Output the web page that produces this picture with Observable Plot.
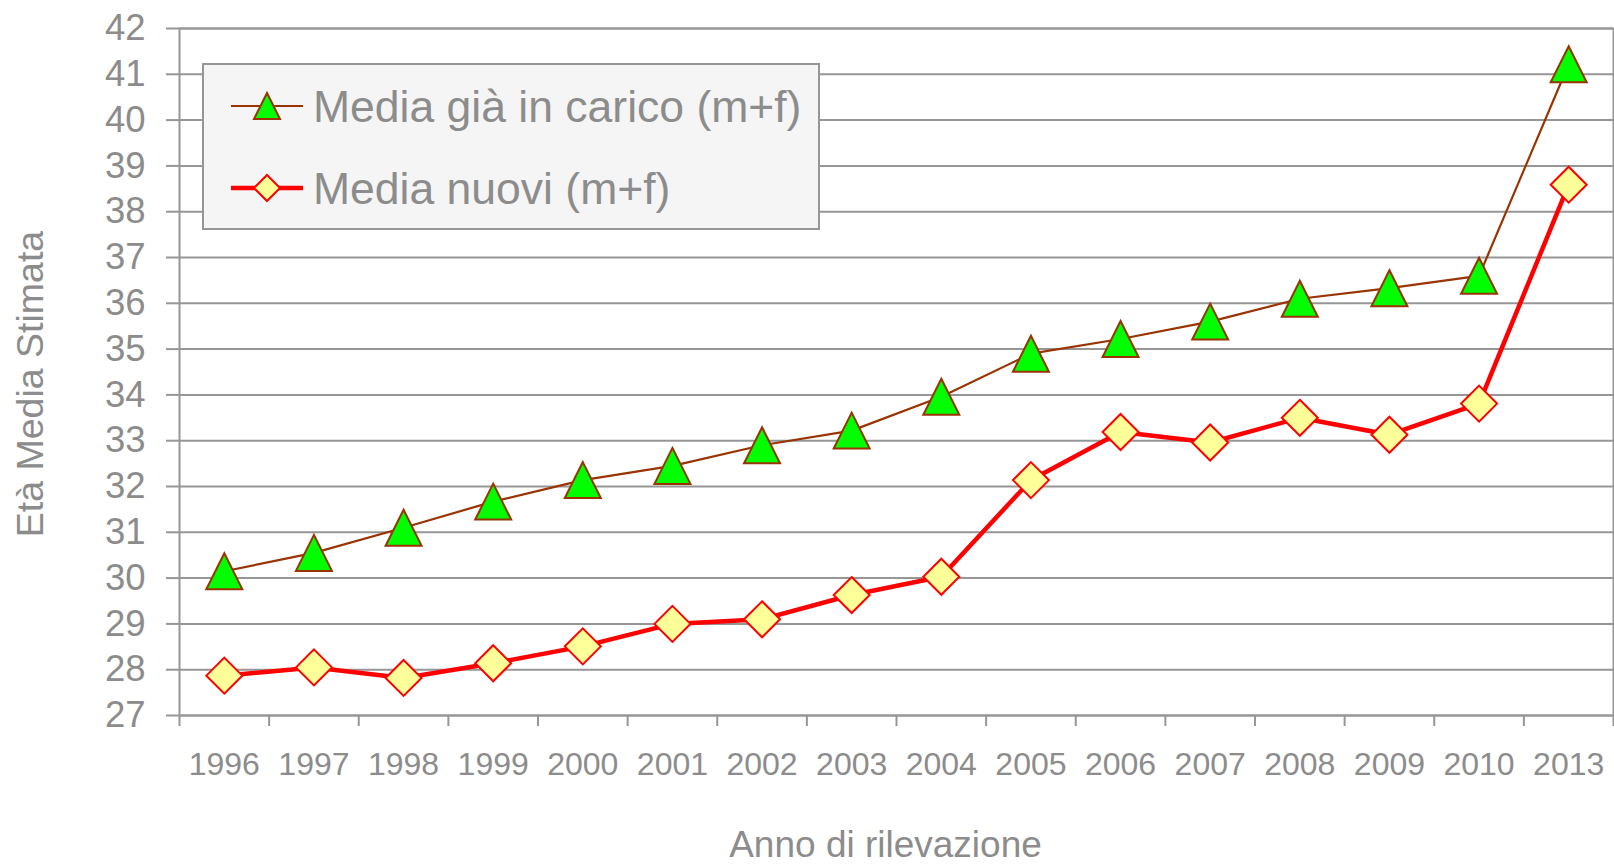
<!DOCTYPE html>
<html>
<head>
<meta charset="utf-8">
<script src="https://cdn.jsdelivr.net/npm/d3@7"></script>
<script src="https://cdn.jsdelivr.net/npm/@observablehq/plot@0.6"></script>
<style>
  html, body { margin: 0; padding: 0; background: #ffffff; }
  #chart { width: 1614px; height: 865px; overflow: hidden; }
</style>
</head>
<body>
<div id="chart"></div>
<script>
// ---- data ----
const years = ["1996","1997","1998","1999","2000","2001","2002","2003","2004","2005","2006","2007","2008","2009","2010","2013"];
const mediaGiaInCarico = [30.15, 30.55, 31.1, 31.67, 32.14, 32.45, 32.9, 33.22, 33.96, 34.9, 35.22, 35.6, 36.1, 36.33, 36.6, 41.22];
const mediaNuovi = [27.87, 28.05, 27.82, 28.14, 28.51, 29.0, 29.1, 29.63, 30.03, 32.14, 33.19, 32.96, 33.5, 33.13, 33.81, 38.59];
const yTickValues = [27,28,29,30,31,32,33,34,35,36,37,38,39,40,41,42];
const seriesNames = ["Media già in carico (m+f)", "Media nuovi (m+f)"];
const xTitle = "Anno di rilevazione";
const yTitle = "Età Media Stimata";

const rows = years.map((year, i) => ({i, year, gia: mediaGiaInCarico[i], nuovi: mediaNuovi[i]}));
const bandEdges = d3.range(years.length + 1).map(i => i - 0.5);

// custom symbols (bounding box centred on the data point)
const triangleSym = {
  draw(ctx, size) {
    const r = Math.sqrt(size / Math.PI);
    ctx.moveTo(0, -r);
    ctx.lineTo(r, r);
    ctx.lineTo(-r, r);
    ctx.closePath();
  }
};
const diamondSym = {
  draw(ctx, size) {
    const r = Math.sqrt(size / Math.PI);
    ctx.moveTo(0, -r);
    ctx.lineTo(r, 0);
    ctx.lineTo(0, r);
    ctx.lineTo(-r, 0);
    ctx.closePath();
  }
};

const gridColor = "#969696";
const textColor = "#8c8c8c";
const font = "'Liberation Sans', Arial, sans-serif";

const svg = Plot.plot({
  width: 1614,
  height: 865,
  marginLeft: 179,
  marginRight: 1,
  marginTop: 28,
  marginBottom: 150,
  style: {fontFamily: font, color: textColor, background: "transparent", overflow: "visible"},
  x: {type: "linear", domain: [-0.5, years.length - 0.5]},
  y: {type: "linear", domain: [27, 42]},
  marks: [
    Plot.gridY(yTickValues, {stroke: gridColor, strokeOpacity: 1, strokeWidth: 2}),
    Plot.frame({stroke: gridColor, strokeWidth: 2}),
    Plot.axisY(yTickValues, {tickSize: 13, tickPadding: 21, fontSize: 36.5, stroke: gridColor, strokeWidth: 2, label: null, fill: textColor}),
    Plot.axisX(bandEdges, {tickSize: 11, tickFormat: () => "", stroke: gridColor, strokeWidth: 2, label: null}),
    Plot.axisX(d3.range(years.length), {tickSize: 0, tickPadding: 37, tickFormat: i => years[i], fontSize: 32, label: null, fill: textColor}),
    Plot.text([yTitle], {frameAnchor: "left", text: d => d, rotate: -90, textAnchor: "middle", lineAnchor: "middle", dx: -149, dy: 12, fontSize: 37.5, fill: textColor}),
    Plot.text([xTitle], {frameAnchor: "bottom", text: d => d, textAnchor: "middle", lineAnchor: "middle", dx: -11, dy: 130, fontSize: 37, fill: textColor}),
    Plot.line(rows, {x: "i", y: "gia", stroke: "#993300", strokeWidth: 2.2}),
    Plot.dot(rows, {x: "i", y: "gia", symbol: triangleSym, r: 18, fill: "#00ff00", stroke: "#993300", strokeWidth: 2}),
    Plot.line(rows, {x: "i", y: "nuovi", stroke: "#ff0000", strokeWidth: 4.5}),
    Plot.dot(rows, {x: "i", y: "nuovi", symbol: diamondSym, r: 18, fill: "#ffff99", stroke: "#ff0000", strokeWidth: 2})
  ]
});

// ---- legend ----
const lg = d3.select(svg).append("g").attr("font-family", font);
lg.append("rect").attr("x", 203).attr("y", 64).attr("width", 616).attr("height", 165)
  .attr("fill", "#f5f5f5").attr("stroke", gridColor).attr("stroke-width", 2);
const legendItems = [
  {name: seriesNames[0], y: 106, stroke: "#993300", lw: 2.2, sym: triangleSym, fill: "#00ff00"},
  {name: seriesNames[1], y: 188, stroke: "#ff0000", lw: 4.5, sym: diamondSym, fill: "#ffff99"}
];
for (const it of legendItems) {
  lg.append("line").attr("x1", 231).attr("x2", 303).attr("y1", it.y).attr("y2", it.y)
    .attr("stroke", it.stroke).attr("stroke-width", it.lw);
  lg.append("path").attr("d", d3.symbol(it.sym, 13 * 13 * Math.PI)())
    .attr("transform", `translate(267,${it.y})`)
    .attr("fill", it.fill).attr("stroke", it.stroke).attr("stroke-width", 2);
  lg.append("text").attr("x", 313).attr("y", it.y).attr("dy", "0.35em")
    .attr("text-anchor", "start")
    .attr("font-size", 44.5).attr("fill", textColor).text(it.name);
}

document.getElementById("chart").appendChild(svg);
</script>
</body>
</html>
